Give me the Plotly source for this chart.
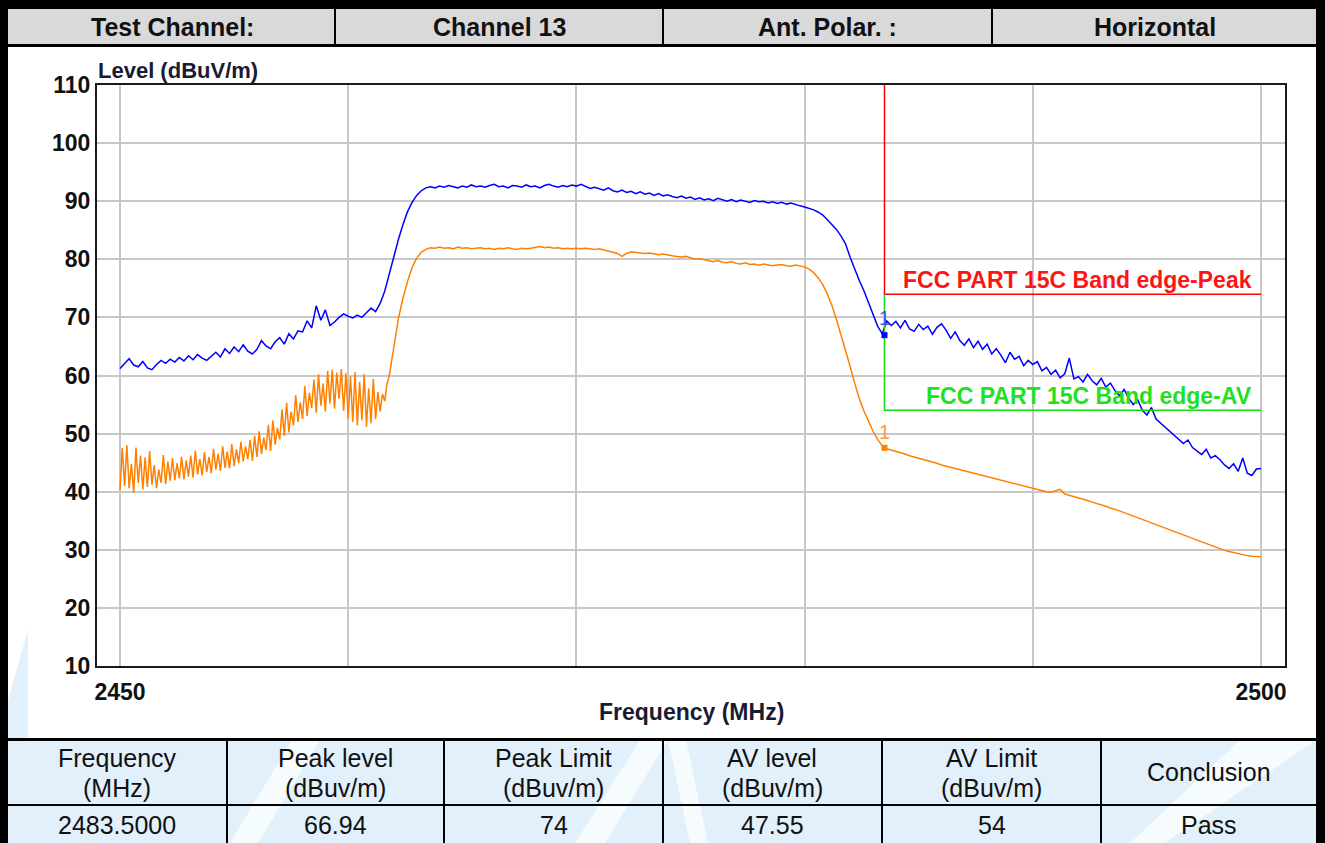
import numpy as np
import plotly.graph_objects as go

# ---------------- measurement data ----------------
F_START, F_STOP = 2450.0, 2500.0
BAND_EDGE = 2483.5

# Peak detector trace, 0.2 MHz sweep step from 2450 to 2500 MHz
peak_level = [
    61.2, 62.0, 62.9, 61.8, 61.5, 62.4, 61.3, 61.0, 61.9, 62.6,
    62.1, 62.8, 62.3, 63.1, 62.5, 63.4, 62.7, 63.6, 63.0, 62.6,
    63.3, 64.0, 63.2, 64.6, 63.8, 64.9, 64.1, 65.3, 64.2, 63.7,
    64.5, 66.0, 65.1, 64.6, 65.8, 66.5, 65.4, 67.2, 66.3, 67.7,
    67.5, 69.4, 68.2, 72.0, 69.5, 71.3, 68.6, 69.2, 70.0, 70.6,
    70.2, 69.9, 70.4, 70.0, 70.8, 71.6, 71.0, 72.4, 74.5, 77.5,
    80.6, 83.4, 86.0, 88.2, 89.8, 91.0, 91.8, 92.3, 92.5, 92.3,
    92.6, 92.4, 92.7, 92.5, 92.3, 92.6, 92.4, 92.8, 92.5, 92.6,
    92.4, 92.7, 92.9, 92.5, 92.6, 92.3, 92.7, 92.6, 92.4, 92.8,
    92.5, 92.6, 92.3, 92.7, 92.9, 92.6, 92.4, 92.7, 92.5, 92.8,
    92.6, 92.9, 92.5, 92.2, 92.4, 92.1, 91.9, 92.3, 91.8, 91.6,
    91.9, 91.5, 91.7, 91.3, 91.6, 91.2, 91.4, 91.0, 91.3, 90.9,
    91.1, 90.8, 90.6, 90.9, 90.5, 90.7, 90.3, 90.6, 90.2, 90.4,
    90.1, 90.5, 90.2, 90.0, 90.3, 89.9, 90.2, 90.0, 89.8, 90.1,
    89.9, 90.0, 89.7, 89.9, 89.6, 89.8, 89.5, 89.7, 89.4, 89.2,
    89.0, 88.8, 88.5, 88.1, 87.6, 86.8, 85.9, 85.1, 84.0, 82.6,
    80.3, 78.2, 76.3, 74.6, 72.6, 70.6, 68.5, 67.2, 69.4, 68.6,
    69.3, 68.2, 69.5, 68.0, 67.6, 68.8, 67.9, 68.5, 67.1, 68.3,
    68.9, 67.8, 66.4, 67.5, 66.0, 65.2, 66.3, 64.8, 65.9, 64.5,
    65.4, 63.7, 64.6, 63.5, 62.2, 64.0, 62.8, 63.3, 61.7, 62.6,
    61.9, 62.4, 60.8, 61.4, 60.2, 60.9, 59.6, 60.3, 63.0, 59.4,
    59.8, 58.9, 60.2, 59.1, 58.4, 59.5, 58.0, 58.7, 57.4, 56.5,
    57.6, 56.1, 55.0, 55.8, 54.0, 53.2, 54.5, 52.5, 51.8, 51.0,
    50.4, 49.6, 49.0, 48.3, 48.9, 47.6, 47.0, 46.4, 47.3, 45.8,
    46.2, 45.5, 44.6, 44.0, 44.8, 43.5, 45.8, 43.2, 42.8, 43.9,
    44.0,
]

# Average detector trace: 0.1 MHz step below 2462 MHz, 0.2 MHz step above
av_level_low = [
    40.2, 47.5, 41.0, 48.0, 40.6, 44.8, 39.8, 47.6, 41.5, 46.2,
    40.4, 45.9, 40.8, 47.0, 41.2, 44.6, 40.6, 43.8, 41.5, 46.3,
    41.3, 45.2, 41.9, 45.8, 42.0, 44.9, 42.3, 46.0, 42.1, 45.4,
    42.6, 46.2, 42.4, 47.1, 43.0, 45.6, 42.8, 46.8, 43.4, 46.0,
    43.2, 47.4, 43.8, 46.5, 43.6, 47.8, 44.1, 46.9, 44.0, 48.2,
    44.4, 47.3, 44.9, 48.6, 45.2, 47.8, 45.6, 48.9, 45.3, 49.6,
    46.0, 50.4, 46.5, 49.3, 47.2, 51.5, 47.0, 52.3, 48.1, 51.0,
    49.0, 54.2, 49.6, 55.3, 50.2, 53.8, 51.4, 56.6, 52.0, 55.4,
    52.5, 58.2, 53.0, 57.0, 54.4, 59.3, 53.6, 60.2, 54.8, 58.6,
    53.8, 60.8, 55.2, 61.0, 54.3, 60.5, 56.0, 61.1, 53.9, 60.4,
    52.6, 59.8, 52.0, 60.6, 51.4, 58.9, 52.3, 60.2, 51.2, 57.8,
    51.8, 59.4, 52.5, 57.2, 53.8, 56.8, 55.6, 58.5, 60.0, 62.5,
]
av_level_high = [
    65.4, 69.8, 73.3, 76.2, 78.6, 80.2, 81.2, 81.7, 82.0, 81.9,
    82.1, 81.9, 82.0, 81.8, 82.1, 81.9, 82.0, 81.8, 81.9, 82.0,
    81.8, 81.9, 81.7, 81.9, 81.8, 82.0, 81.8, 81.7, 81.9, 81.8,
    81.9, 82.0, 82.2, 82.0, 82.1, 81.9, 82.0, 81.8, 81.9, 81.8,
    81.9, 81.8, 81.9, 81.8, 81.7, 81.8, 81.6, 81.5, 81.3, 81.0,
    80.5, 81.0, 81.3, 81.2, 81.1, 81.0, 81.1, 80.9, 80.8, 80.9,
    80.7, 80.6, 80.5, 80.4, 80.5, 80.2, 80.0, 80.1, 79.9, 79.8,
    79.6, 79.8, 79.5, 79.4, 79.6, 79.3, 79.2, 79.4, 79.1, 79.2,
    79.0, 79.2, 79.1, 78.9, 79.0, 79.1, 78.9, 78.8, 79.0, 78.9,
    78.7, 78.3, 77.7, 76.8, 75.6, 74.0, 72.0, 69.6, 67.0, 64.3,
    61.5, 58.6, 56.0, 53.9, 52.0, 50.4, 49.0, 47.9, 47.4, 47.2,
    47.0, 46.7, 46.5, 46.2, 46.0, 45.7, 45.5, 45.3, 45.1, 44.9,
    44.6, 44.4, 44.2, 43.9, 43.7, 43.5, 43.3, 43.1, 42.9, 42.7,
    42.5, 42.4, 42.1, 41.9, 41.7, 41.6, 41.4, 41.1, 40.9, 40.7,
    40.6, 40.3, 40.2, 40.0, 39.9, 40.1, 40.4, 39.6, 39.4, 39.2,
    39.0, 38.7, 38.5, 38.2, 38.0, 37.7, 37.5, 37.2, 37.0, 36.7,
    36.4, 36.1, 35.8, 35.5, 35.3, 35.0, 34.7, 34.4, 34.1, 33.8,
    33.5, 33.2, 32.9, 32.6, 32.3, 32.0, 31.7, 31.4, 31.1, 30.8,
    30.5, 30.2, 29.9, 29.7, 29.5, 29.3, 29.2, 29.0, 28.9, 28.8,
    28.8,
]

# Limits and marker readings at the band edge
PEAK_LIMIT = 74
AV_LIMIT = 54
marker_peak = 66.94
marker_av = 47.55

header_cells = ["Test Channel:", "Channel 13", "Ant. Polar. :", "Horizontal"]
result_headers = [("Frequency", "(MHz)"), ("Peak level", "(dBuv/m)"), ("Peak Limit", "(dBuv/m)"),
                  ("AV level", "(dBuv/m)"), ("AV Limit", "(dBuv/m)"), ("Conclusion", None)]
result_values = ["2483.5000", "66.94", "74", "47.55", "54", "Pass"]

y_ticks = [10, 20, 30, 40, 50, 60, 70, 80, 90, 100, 110]
x_ticks = [2450, 2460, 2470, 2480, 2490, 2500]
x_ticktext = ["2450", "", "", "", "", "2500"]

# ---------------- sweep frequencies ----------------
freq_peak = np.linspace(F_START, F_STOP, len(peak_level))
freq_av = np.concatenate([
    np.linspace(F_START, 2461.9, len(av_level_low)),
    np.linspace(2462.0, F_STOP, len(av_level_high)),
])
av_level = av_level_low + av_level_high

# ---------------- page geometry (pixels) ----------------
W, H = 1325, 843
ML, MR, MT, MB = 97, 40, 85, 177
PW, PH = W - ML - MR, H - MT - MB


def px(x):
    return (x - ML) / PW


def py(y):
    return (H - MB - y) / PH


FONT = "Liberation Sans, Arial, sans-serif"
TXT = "#111111"

fig = go.Figure()

fig.add_trace(go.Scatter(x=freq_peak, y=peak_level, mode="lines",
                         line=dict(color="#0000ff", width=1.5), hoverinfo="skip"))
fig.add_trace(go.Scatter(x=freq_av, y=av_level, mode="lines",
                         line=dict(color="#ff8000", width=1.5), hoverinfo="skip"))

# limit lines starting at the band edge
fig.add_trace(go.Scatter(x=[BAND_EDGE, BAND_EDGE, F_STOP], y=[110, PEAK_LIMIT, PEAK_LIMIT],
                         mode="lines", line=dict(color="#ff0000", width=1.5), hoverinfo="skip"))
fig.add_trace(go.Scatter(x=[BAND_EDGE, BAND_EDGE, F_STOP], y=[PEAK_LIMIT, AV_LIMIT, AV_LIMIT],
                         mode="lines", line=dict(color="#11dd11", width=1.5), hoverinfo="skip"))

# band edge markers
fig.add_trace(go.Scatter(x=[BAND_EDGE], y=[marker_peak], mode="markers",
                         marker=dict(symbol="square", size=6, color="#0000ff"), hoverinfo="skip"))
fig.add_trace(go.Scatter(x=[BAND_EDGE], y=[marker_av], mode="markers",
                         marker=dict(symbol="square", size=6, color="#ff8000"), hoverinfo="skip"))

shapes = []
annotations = []

# light blue watermark behind the page
WM = "#e1f0fb"
wm_paths = [
    "M {} {} L {} {} L {} {} L {} {} Z".format(px(28), py(630), px(28), py(740), px(8), py(740), px(8), py(700)),
    "M {} {} L {} {} L {} {} L {} {} Z".format(px(8), py(740), px(1316), py(740), px(1316), py(843), px(8), py(843)),
]
for p in wm_paths:
    shapes.append(dict(type="path", path=p, xref="paper", yref="paper",
                       fillcolor=WM, line=dict(width=0), layer="below"))
white_bands = [
    (230, 258, 292, 320),
    (575, 605, 640, 668),
    (690, 708, 668, 686),
    (1130, 1165, 1240, 1316),
]
for xb0, xb1, xt0, xt1 in white_bands:
    path = "M {} {} L {} {} L {} {} L {} {} Z".format(
        px(xb0), py(843), px(xb1), py(843), px(xt1), py(740), px(xt0), py(740))
    shapes.append(dict(type="path", path=path, xref="paper", yref="paper",
                       fillcolor="rgba(255,255,255,0.7)", line=dict(width=0), layer="below"))

# header row
shapes.append(dict(type="rect", xref="paper", yref="paper", x0=px(8), x1=px(1316), y0=py(45), y1=py(9),
                   fillcolor="#d9d9d9", line=dict(width=0), layer="below"))


def hline(y, x0, x1, w):
    shapes.append(dict(type="line", xref="paper", yref="paper", x0=px(x0), x1=px(x1), y0=py(y), y1=py(y),
                       line=dict(color="#000000", width=w)))


def vline(x, y0, y1, w):
    shapes.append(dict(type="line", xref="paper", yref="paper", x0=px(x), x1=px(x), y0=py(y0), y1=py(y1),
                       line=dict(color="#000000", width=w)))


# outer page border
shapes.append(dict(type="rect", xref="paper", yref="paper", x0=px(0), x1=px(W), y0=py(9), y1=py(0),
                   fillcolor="#000000", line=dict(width=0)))
shapes.append(dict(type="rect", xref="paper", yref="paper", x0=px(0), x1=px(8), y0=py(H), y1=py(0),
                   fillcolor="#000000", line=dict(width=0)))
shapes.append(dict(type="rect", xref="paper", yref="paper", x0=px(1316), x1=px(W), y0=py(H), y1=py(0),
                   fillcolor="#000000", line=dict(width=0)))

hline(45.5, 8, 1316, 3)
for xc in [335, 663, 992]:
    vline(xc, 9, 45, 2)

hline(739.5, 8, 1316, 3)
hline(805, 8, 1316, 2)
for xc in [227, 444, 663, 882, 1101]:
    vline(xc, 740, H, 2)

header_x = [172, 499, 828, 1155]
for txt, xc in zip(header_cells, header_x):
    annotations.append(dict(text="<b>%s</b>" % txt, x=px(xc), y=py(27), xref="paper", yref="paper",
                            showarrow=False, font=dict(family=FONT, size=25, color=TXT),
                            xanchor="center", yanchor="middle"))


def cell_text(txt, xc, yc):
    annotations.append(dict(text=txt, x=px(xc), y=py(yc), xref="paper", yref="paper",
                            showarrow=False, font=dict(family=FONT, size=25, color=TXT),
                            xanchor="center", yanchor="middle"))


col_x = [117, 335.5, 553.5, 772.5, 991.5, 1208.5]
for (line1, line2), val, xc in zip(result_headers, result_values, col_x):
    if line2 is None:
        cell_text(line1, xc, 772)
    else:
        cell_text(line1, xc, 758)
        cell_text(line2, xc, 788)
    cell_text(val, xc, 825)

# axis titles
annotations.append(dict(text="<b>Level (dBuV/m)</b>", x=px(96), y=py(70), xref="paper", yref="paper",
                        showarrow=False, font=dict(family=FONT, size=22, color="#1a1a33"),
                        xanchor="left", yanchor="middle"))
annotations.append(dict(text="<b>Frequency (MHz)</b>", x=px(691), y=py(712), xref="paper", yref="paper",
                        showarrow=False, font=dict(family=FONT, size=23, color="#1a1a33"),
                        xanchor="center", yanchor="middle"))

# limit labels
annotations.append(dict(text="<b>FCC PART 15C Band edge-Peak</b>", x=2499.7, y=76.5, xref="x", yref="y",
                        showarrow=False, font=dict(family=FONT, size=23, color="#ff1414"),
                        xanchor="right", yanchor="middle"))
annotations.append(dict(text="<b>FCC PART 15C Band edge-AV</b>", x=2499.7, y=56.5, xref="x", yref="y",
                        showarrow=False, font=dict(family=FONT, size=23, color="#22e022"),
                        xanchor="right", yanchor="middle"))

# marker index labels
annotations.append(dict(text="1", x=BAND_EDGE, y=marker_peak + 3.0, xref="x", yref="y",
                        showarrow=False, font=dict(family=FONT, size=20, color="#5050d8"),
                        xanchor="center", yanchor="middle"))
annotations.append(dict(text="1", x=BAND_EDGE, y=marker_av + 2.8, xref="x", yref="y",
                        showarrow=False, font=dict(family=FONT, size=20, color="#ff9a40"),
                        xanchor="center", yanchor="middle"))

px_per_mhz = (1261 - 120) / (F_STOP - F_START)
x_range = [F_START - (120 - ML) / px_per_mhz, F_STOP + (W - MR - 1261) / px_per_mhz]

fig.update_layout(
    width=W, height=H, autosize=False,
    margin=dict(l=ML, r=MR, t=MT, b=MB, pad=0),
    paper_bgcolor="#ffffff", plot_bgcolor="#ffffff",
    showlegend=False,
    shapes=shapes, annotations=annotations,
    xaxis=dict(range=x_range, tickvals=x_ticks, ticktext=x_ticktext, showgrid=True,
               gridcolor="#c8c8c8", gridwidth=2, zeroline=False, showline=True, mirror=True,
               linecolor="#1a1a1a", linewidth=2, ticks="", ticklabelstandoff=4,
               tickfont=dict(family=FONT, size=23, color=TXT, weight="bold")),
    yaxis=dict(range=[10, 110], tickvals=y_ticks, showgrid=True, gridcolor="#c8c8c8", gridwidth=2,
               zeroline=False, showline=True, mirror=True, linecolor="#1a1a1a", linewidth=2,
               ticks="", ticklabelstandoff=0,
               tickfont=dict(family=FONT, size=23, color=TXT, weight="bold")),
)

fig.write_html("out.html")
